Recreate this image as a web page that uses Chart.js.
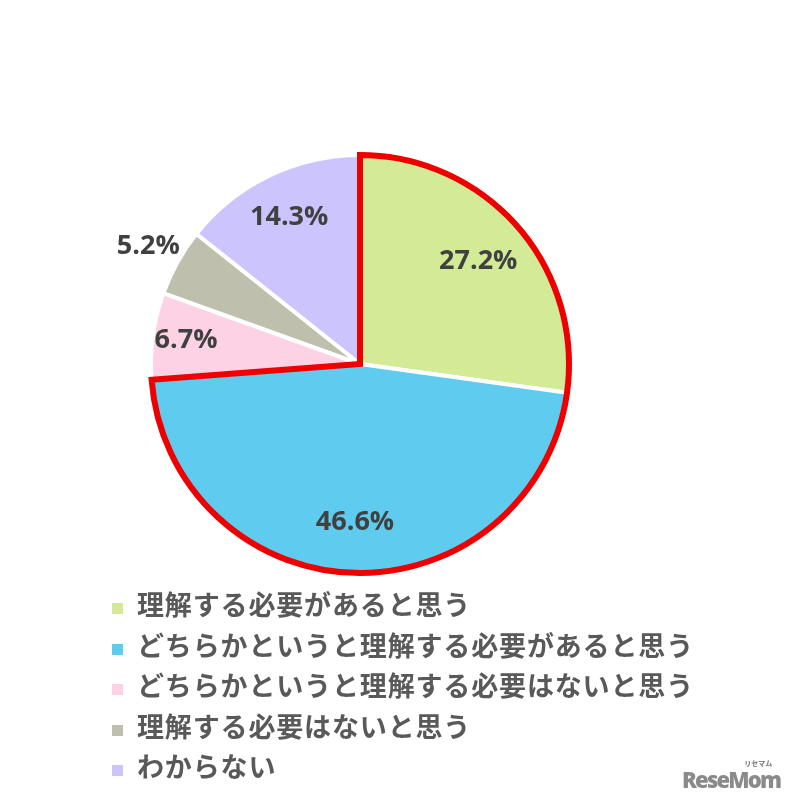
<!DOCTYPE html>
<html>
<head>
<meta charset="utf-8">
<script src="https://cdn.jsdelivr.net/npm/chart.js@4.4.1/dist/chart.umd.min.js"></script>
<style>
  body { margin:0; background:#fff; }
  #wrap { position:relative; width:793px; height:805px; }
  #legend { position:absolute; left:108px; top:584px; list-style:none; margin:0; padding:0;
    font-family:"Noto Sans CJK JP", sans-serif; font-weight:700; font-size:27px; color:#595959; letter-spacing:0.85px; }
  #legend li { height:40.5px; line-height:40.5px; position:relative; padding-left:29px; white-space:nowrap; }
  #legend li span { position:absolute; left:4px; top:19px; width:11px; height:11px; }
  #mark { position:absolute; left:682px; top:764px; font-family:"Open Sans", sans-serif; font-weight:800;
    font-size:22px; color:#8a8a8a; letter-spacing:-1.8px; }
  #mark small { position:absolute; right:8px; top:-6px; font-size:7px; font-family:"Noto Sans CJK JP"; letter-spacing:0; }
</style>
</head>
<body>
<div id="wrap">
  <canvas id="pie" width="793" height="805"></canvas>
  <ul id="legend"></ul>
  <div id="mark">ReseMom<small>リセマム</small></div>
</div>
<script>
const categories = [
  "理解する必要があると思う",
  "どちらかというと理解する必要があると思う",
  "どちらかというと理解する必要はないと思う",
  "理解する必要はないと思う",
  "わからない"
];
const percents = [27.2, 46.6, 6.7, 5.2, 14.3];
const colors = ["#d3ea96", "#5ecbef", "#fdd2e4", "#bfbfae", "#ccc4fc"];

// label distance from center, as share of radius
const labelRadius = [0.75, 0.76, 0.84, 1.16, 0.78];

// red outline round the first two slices
const redOutline = {
  id: "redOutline",
  afterDatasetsDraw(chart) {
    const arcs = chart.getDatasetMeta(0).data;
    const a = arcs[0], b = arcs[1];
    const ctx = chart.ctx;
    ctx.save();
    ctx.beginPath();
    ctx.moveTo(a.x, a.y);
    ctx.arc(a.x, a.y, a.outerRadius, a.startAngle, b.endAngle);
    ctx.closePath();
    ctx.lineWidth = 6;
    ctx.lineJoin = "miter";
    ctx.strokeStyle = "#ee0000";
    ctx.stroke();
    ctx.restore();
  }
};

const pctLabels = {
  id: "pctLabels",
  afterDraw(chart) {
    const ctx = chart.ctx;
    const arcs = chart.getDatasetMeta(0).data;
    ctx.save();
    ctx.font = "700 27px 'Open Sans'";
    ctx.fillStyle = "#404040";
    ctx.textAlign = "center";
    ctx.textBaseline = "middle";
    arcs.forEach((arc, i) => {
      const mid = (arc.startAngle + arc.endAngle) / 2;
      const r = arc.outerRadius * labelRadius[i];
      ctx.fillText(percents[i].toFixed(1) + "%", arc.x + Math.cos(mid) * r, arc.y + Math.sin(mid) * r);
    });
    ctx.restore();
  }
};

new Chart(document.getElementById("pie"), {
  type: "pie",
  data: {
    labels: categories,
    datasets: [{ data: percents, backgroundColor: colors, borderColor: "#ffffff", borderWidth: 4 }]
  },
  options: {
    responsive: false,
    animation: false,
    radius: 209,
    layout: { padding: { left: 0, right: 73, top: 0, bottom: 77 } },
    plugins: { legend: { display: false }, tooltip: { enabled: false } }
  },
  plugins: [redOutline, pctLabels]
});

const legend = document.getElementById("legend");
categories.forEach((cat, i) => {
  const li = document.createElement("li");
  li.innerHTML = `<span style="background:${colors[i]}"></span>${cat}`;
  legend.appendChild(li);
});
</script>
</body>
</html>
